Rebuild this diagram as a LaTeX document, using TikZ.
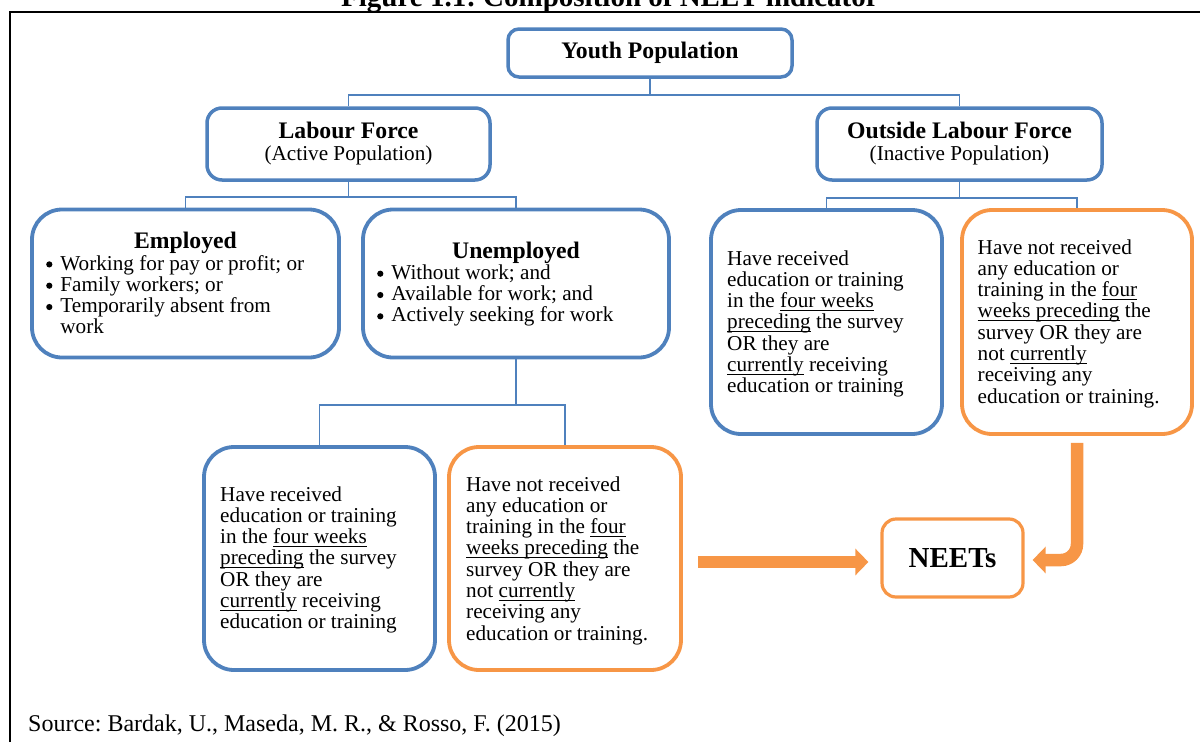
\documentclass[tikz,border=0pt]{standalone}
\usepackage{fontspec}
\setmainfont{Liberation Serif}
\usetikzlibrary{arrows.meta,calc}
\definecolor{boxblue}{HTML}{4F81BD}
\definecolor{boxorange}{HTML}{F79646}
\frenchspacing
\newcommand\undl[1]{\setbox0\hbox{#1}\rlap{\rule[-3pt]{\wd0}{0.9pt}}\box0\relax}
\newcommand\bodyfont{\fontsize{21.2}{21.3}\selectfont}
\newcommand\headfont{\bfseries\fontsize{23.7}{24}\selectfont}
\newcommand\bl{\makebox[14.5pt][l]{\hspace{0.3pt}\tikz[baseline=-5.6pt]\fill[black] (0pt,0pt) circle[radius=3.1pt];}}
\newcommand\nobl{\makebox[14.5pt][l]{}}
\begin{document}
\begin{tikzpicture}[x=1pt,y=-1pt,
  bluebox/.style={draw=boxblue, line width=3.8pt, fill=white, rounded corners=30pt, inner sep=0pt},
  orangebox/.style={draw=boxorange, line width=3.8pt, fill=white, rounded corners=30pt, inner sep=0pt},
  smallbox/.style={rounded corners=13pt, line width=3.5pt, align=center},
  conn/.style={draw=boxblue, line width=1.8pt},
  txt/.style={anchor=base west, inner sep=0pt, font=\bodyfont},
  head/.style={anchor=base, inner sep=0pt, font=\headfont},
  neetarrow/.style={draw=boxorange, line width=12.5pt, -{Triangle[length=13pt,width=26pt]}},
  frame/.style={draw=black, line width=1.6pt}]
\useasboundingbox (0,0) rectangle (1200,742);

% frame and (cut) caption
\node[anchor=base, inner sep=0pt, font=\bfseries\fontsize{29}{32}\selectfont] (title) at (610,6.5) {Figure 1.1: Composition of NEET indicator};
\draw[frame] (10,742) -- (10,11.7) -- (1200,11.7);

% top level boxes
\node[bluebox, smallbox, rounded corners=11pt, minimum width=284pt, minimum height=48pt, font=\headfont] (yp) at (650,53) {Youth Population};
\node[bluebox, smallbox, rounded corners=15pt, minimum width=283pt, minimum height=72pt, font=\bodyfont] (lf) at (348.5,144)
  {{\headfont Labour Force}\\[0.7pt]{\bodyfont (Active Population)}};
\node[bluebox, smallbox, rounded corners=15pt, minimum width=285pt, minimum height=72pt, font=\bodyfont] (olf) at (959.5,144)
  {{\headfont Outside Labour Force}\\[0.7pt]{\bodyfont (Inactive Population)}};

% second level
\node[bluebox, minimum width=307pt, minimum height=148pt] (em) at (185.5,283.5) {};
\node[bluebox, minimum width=306pt, minimum height=148pt] (un) at (516,283.5) {};
\node[bluebox, minimum width=231pt, minimum height=224pt] (in1) at (826.5,322) {};
\node[orangebox, minimum width=230pt, minimum height=224pt] (in2) at (1077,322) {};

% third level
\node[bluebox, minimum width=231pt, minimum height=223pt] (b1) at (319.5,558.5) {};
\node[orangebox, minimum width=232pt, minimum height=223pt] (b2) at (565,558.5) {};
\node[orangebox, rounded corners=14pt, line width=3.2pt, minimum width=141pt, minimum height=78pt,
      font=\bfseries\fontsize{29}{30}\selectfont] (nt) at (952.5,558) {NEETs};

% texts
\node[head] (emh) at (185.5,248) {Employed};
\node[txt] (emt) at (45.7,270) {\bodyfont\begin{tabular}[t]{@{}l@{}}
\bl Working for pay or profit; or\\
\bl Family workers; or\\
\bl Temporarily absent from\\
\nobl work\end{tabular}};
\node[head] (unh) at (516,258) {Unemployed};
\node[txt] (unt) at (376.7,279.3) {\bodyfont\begin{tabular}[t]{@{}l@{}}
\bl Without work; and\\
\bl Available for work; and\\
\bl Actively seeking for work\end{tabular}};

\node[txt] (in1t) at (727,265) {\bodyfont\begin{tabular}[t]{@{}l@{}}
Have received\\
education or training\\
in the \undl{four weeks}\\
\undl{preceding} the survey\\
OR they are\\
\undl{currently} receiving\\
education or training\end{tabular}};
\node[txt] (in2t) at (977.5,254) {\bodyfont\begin{tabular}[t]{@{}l@{}}
Have not received\\
any education or\\
training in the \undl{four}\\
\undl{weeks preceding} the\\
survey OR they are\\
not \undl{currently}\\
receiving any\\
education or training.\end{tabular}};
\node[txt] (b1t) at (220,501) {\bodyfont\begin{tabular}[t]{@{}l@{}}
Have received\\
education or training\\
in the \undl{four weeks}\\
\undl{preceding} the survey\\
OR they are\\
\undl{currently} receiving\\
education or training\end{tabular}};
\node[txt] (b2t) at (466,491) {\bodyfont\begin{tabular}[t]{@{}l@{}}
Have not received\\
any education or\\
training in the \undl{four}\\
\undl{weeks preceding} the\\
survey OR they are\\
not \undl{currently}\\
receiving any\\
education or training.\end{tabular}};

% connectors
\draw[conn] (yp.south) -- ++(0,16) -| (lf.north);
\draw[conn] (yp.south) -- ++(0,16) -| (olf.north);
\draw[conn] (lf.south) -- ++(0,15) -| (em.north);
\draw[conn] (lf.south) -- ++(0,15) -| (un.north);
\draw[conn] (olf.south) -- ++(0,16.5) -| (in1.north);
\draw[conn] (olf.south) -- ++(0,16.5) -| (in2.north);
\draw[conn] (un.south) -- ++(0,45.5) -| (b1.north);
\draw[conn] (un.south) -- ++(0,45.5) -| (b2.north);

% NEET arrows
\draw[neetarrow] ($(b2.east)+(15,3.5)$) -- ($(nt.west)+(-12,4)$);
\draw[neetarrow, rounded corners=16pt] ($(in2.south)+(0,7)$) |- ($(nt.east)+(8,2)$);

% source
\node[anchor=base west, inner sep=0pt, font=\fontsize{24}{26}\selectfont] (src) at (28,731)
  {Source: Bardak, U., Maseda, M. R., \& Rosso, F. (2015)};
\end{tikzpicture}
\end{document}
